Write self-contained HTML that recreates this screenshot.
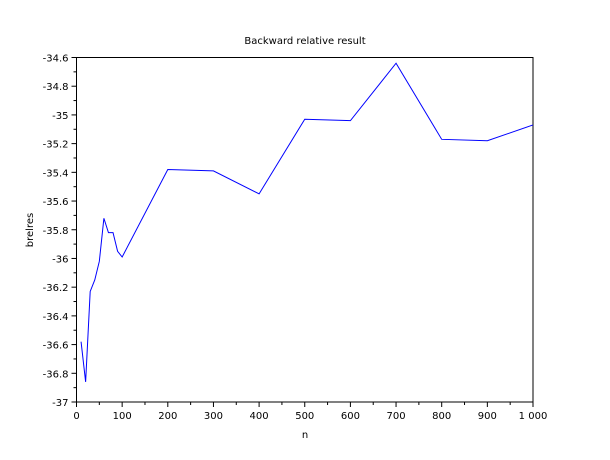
<!DOCTYPE html>
<html><head><meta charset="utf-8"><style>
html,body{margin:0;padding:0;background:#fff;}
svg{display:block;font-family:"DejaVu Sans","Liberation Sans",sans-serif;}
</style></head><body>
<svg id="chart" width="610" height="460">
<rect width="610" height="460" fill="#fff"/>
<text x="305" y="44" font-size="10" text-anchor="middle">Backward relative result</text>
<text x="305" y="438" font-size="10" text-anchor="middle">n</text>
<text x="33" y="230" font-size="10" text-anchor="middle" transform="rotate(-90 33 230)">brelres</text>
<g id="axes"></g>
<rect x="76.5" y="57.5" width="456.5" height="344.5" fill="none" stroke="#000" stroke-width="1"/>
<polyline id="line" fill="none" stroke="#0000ff" stroke-width="1"/>
</svg>
<script>
const nValues=[10,20,30,40,50,60,70,80,90,100,200,300,400,500,600,700,800,900,1000];
const brelres=[-36.58,-36.86,-36.23,-36.15,-36.02,-35.72,-35.82,-35.82,-35.95,-35.99,-35.38,-35.39,-35.55,-35.03,-35.04,-34.64,-35.17,-35.18,-35.07];
const xTicks=[0,100,200,300,400,500,600,700,800,900,1000];
const xTickLabels=["0","100","200","300","400","500","600","700","800","900","1 000"];
const yTicks=[-37,-36.8,-36.6,-36.4,-36.2,-36,-35.8,-35.6,-35.4,-35.2,-35,-34.8,-34.6];
const yTickLabels=["-37","-36.8","-36.6","-36.4","-36.2","-36","-35.8","-35.6","-35.4","-35.2","-35","-34.8","-34.6"];
const X0=76.5,X1=533,Y0=402,Y1=57.5,xmin=0,xmax=1000,ymin=-37,ymax=-34.6;
function sx(v){return X0+(v-xmin)/(xmax-xmin)*(X1-X0);}
function sy(v){return Y0-(v-ymin)/(ymax-ymin)*(Y0-Y1);}
const NS="http://www.w3.org/2000/svg";
const g=document.getElementById('axes');
function ln(x1,y1,x2,y2,name){const l=document.createElementNS(NS,'line');l.setAttribute('x1',x1);l.setAttribute('y1',y1);l.setAttribute('x2',x2);l.setAttribute('y2',y2);l.setAttribute('stroke','#000');


g.appendChild(l);}
function tx(x,y,s,anchor,name){const t=document.createElementNS(NS,'text');t.setAttribute('x',x);t.setAttribute('y',y);t.setAttribute('font-size','10');t.setAttribute('text-anchor',anchor);t.textContent=s;


g.appendChild(t);}
xTicks.forEach((v,i)=>{const x=sx(v);ln(x,Y0,x,Y0+5,'x-tick');tx(x,Y0+17,xTickLabels[i],'middle','x-tick-label');
if(i<xTicks.length-1){const m=sx((v+xTicks[i+1])/2);ln(m,Y0,m,Y0+3,'x-minor-tick');}});
yTicks.forEach((v,i)=>{const y=sy(v);ln(X0-5,y,X0,y,'y-tick');tx(X0-8,y+4,yTickLabels[i],'end','y-tick-label');
if(i<yTicks.length-1){const m=sy((v+yTicks[i+1])/2);ln(X0-3,m,X0,m,'y-minor-tick');}});
document.getElementById('line').setAttribute('points',nValues.map((n,i)=>sx(n).toFixed(2)+','+sy(brelres[i]).toFixed(2)).join(' '));
</script>
</body></html>
